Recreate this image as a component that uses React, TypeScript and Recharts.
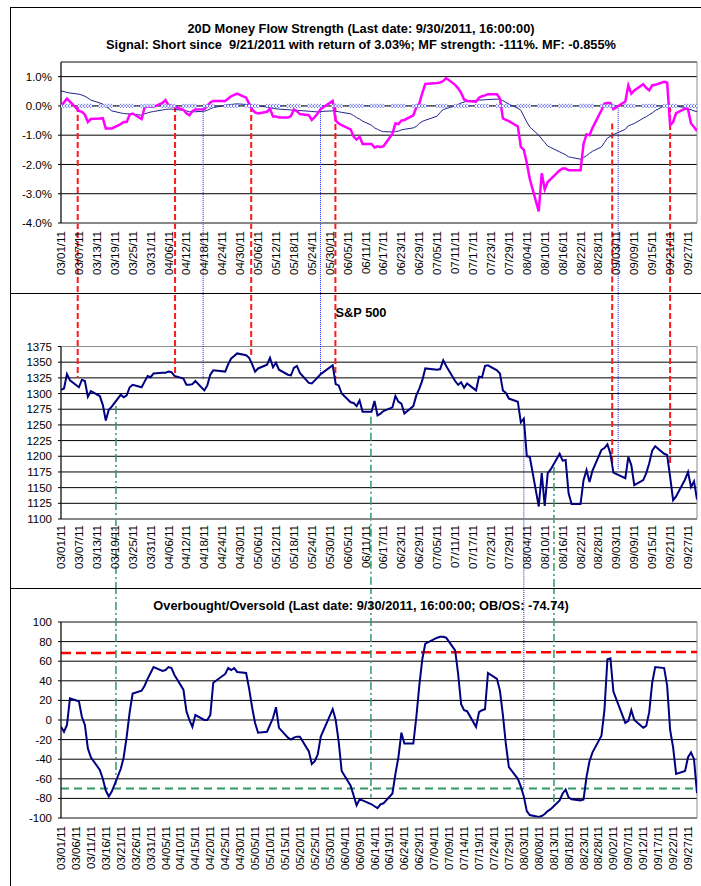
import { LineChart, Line, XAxis, YAxis, CartesianGrid, ReferenceLine, ReferenceArea } from "recharts";

const FONT = "'Liberation Sans', Arial, Helvetica, sans-serif";

// trading days, 2011
const tradingDates = [
  "03/01", "03/02", "03/03", "03/04", "03/07", "03/08", "03/09", "03/10", "03/11", "03/14", "03/15", "03/16",
  "03/17", "03/18", "03/21", "03/22", "03/23", "03/24", "03/25", "03/28", "03/29", "03/30", "03/31",
  "04/01", "04/04", "04/05", "04/06", "04/07", "04/08", "04/11", "04/12", "04/13", "04/14", "04/15", "04/18",
  "04/19", "04/20", "04/21", "04/25", "04/26", "04/27", "04/28", "04/29",
  "05/02", "05/03", "05/04", "05/05", "05/06", "05/09", "05/10", "05/11", "05/12", "05/13", "05/16", "05/17",
  "05/18", "05/19", "05/20", "05/23", "05/24", "05/25", "05/26", "05/27", "05/31",
  "06/01", "06/02", "06/03", "06/06", "06/07", "06/08", "06/09", "06/10", "06/13", "06/14", "06/15", "06/16",
  "06/17", "06/20", "06/21", "06/22", "06/23", "06/24", "06/27", "06/28", "06/29", "06/30",
  "07/01", "07/05", "07/06", "07/07", "07/08", "07/11", "07/12", "07/13", "07/14", "07/15", "07/18", "07/19",
  "07/20", "07/21", "07/22", "07/25", "07/26", "07/27", "07/28", "07/29",
  "08/01", "08/02", "08/03", "08/04", "08/05", "08/08", "08/09", "08/10", "08/11", "08/12", "08/15", "08/16",
  "08/17", "08/18", "08/19", "08/22", "08/23", "08/24", "08/25", "08/26", "08/29", "08/30", "08/31",
  "09/01", "09/02", "09/06", "09/07", "09/08", "09/09", "09/12", "09/13", "09/14", "09/15", "09/16", "09/19",
  "09/20", "09/21", "09/22", "09/23", "09/26", "09/27", "09/28", "09/29", "09/30",
];

const spx = [
  1306, 1308, 1331, 1321, 1310, 1322, 1320, 1295, 1304, 1296, 1282, 1257, 1274, 1279, 1298, 1294, 1297, 1310, 1314, 1310, 1319, 1328, 1326,
  1332, 1333, 1333, 1335, 1334, 1328, 1324, 1314, 1314, 1315, 1320, 1305, 1313, 1330, 1337, 1335, 1347, 1356, 1360, 1364,
  1361, 1357, 1347, 1335, 1340, 1346, 1357, 1342, 1349, 1338, 1330, 1329, 1341, 1344, 1333, 1317, 1316, 1321, 1326, 1331, 1345,
  1315, 1313, 1300, 1286, 1285, 1280, 1289, 1271, 1271, 1288, 1265, 1268, 1272, 1278, 1296, 1287, 1284, 1268, 1280, 1297, 1308, 1321,
  1340, 1338, 1339, 1353, 1344, 1320, 1314, 1318, 1309, 1316, 1305, 1327, 1326, 1344, 1345, 1337, 1332, 1305, 1301, 1292,
  1287, 1254, 1260, 1200, 1199, 1120, 1173, 1121, 1173, 1179, 1204, 1193, 1194, 1141, 1124, 1124, 1162, 1178, 1159, 1177, 1210, 1213, 1219,
  1204, 1174, 1165, 1199, 1186, 1154, 1162, 1173, 1189, 1209, 1216, 1204, 1202, 1167, 1130, 1136, 1163, 1175, 1151, 1160, 1131,
];

// money flow strength, %
const mfStrength = [
  0.0, 0.12, 0.25, 0.15, -0.17, -0.2, -0.3, -0.55, -0.45, -0.43, -0.42, -0.77, -0.77, -0.77, -0.62, -0.55, -0.55, -0.3, -0.26, -0.45, -0.05, -0.02, -0.03,
  -0.03, 0.1, 0.2, 0.02, 0.0, -0.03, -0.13, -0.25, -0.32, -0.18, -0.12, -0.11, 0.0, 0.12, 0.17, 0.17, 0.25, 0.33, 0.38, 0.42,
  0.28, 0.08, -0.12, -0.22, -0.26, -0.2, -0.1, -0.36, -0.36, -0.4, -0.4, -0.35, -0.12, -0.18, -0.28, -0.32, -0.48, -0.38, -0.25, -0.1, 0.17,
  -0.5, -0.6, -0.66, -0.8, -1.05, -1.15, -1.05, -1.3, -1.3, -1.42, -1.38, -1.4, -1.38, -0.95, -0.6, -0.62, -0.5, -0.48, -0.32, -0.05, 0.08, 0.44,
  0.75, 0.78, 0.8, 0.85, 0.95, 0.72, 0.6, 0.45, 0.22, 0.17, 0.14, 0.28, 0.33, 0.36, 0.4, 0.4, 0.25, -0.43, -0.48, -0.52,
  -0.7, -1.4, -1.5, -1.95, -2.5, -3.6, -2.3, -2.85, -2.6, -2.5, -2.2, -2.14, -2.14, -2.2, -2.2, -2.2, -1.3, -0.97, -1.0, -0.75, -0.15, 0.08, 0.1,
  0.1, -0.11, 0.15, 0.7, 0.42, 0.53, 0.74, 0.62, 0.53, 0.7, 0.72, 0.82, 0.8, -0.66, -0.55, -0.25, -0.09, -0.12, -0.6, -0.72, -0.855,
];

// 20 day average of money flow, %
const mfAverage = [
  0.51, 0.49, 0.46, 0.44, 0.4, 0.37, 0.33, 0.27, 0.2, 0.1, 0.06, -0.02, -0.09, -0.17, -0.24, -0.26, -0.27, -0.27, -0.28, -0.32, -0.27, -0.24, -0.21,
  -0.19, -0.14, -0.12, -0.11, -0.11, -0.12, -0.15, -0.17, -0.2, -0.2, -0.2, -0.18, -0.15, -0.1, -0.06, 0.02, 0.04, 0.05, 0.06, 0.07,
  0.05, 0.04, 0.02, 0.01, 0.0, -0.04, -0.06, -0.08, -0.1, -0.11, -0.13, -0.14, -0.15, -0.15, -0.16, -0.18, -0.19, -0.2, -0.2, -0.19, -0.17,
  -0.18, -0.2, -0.22, -0.27, -0.33, -0.4, -0.45, -0.52, -0.66, -0.75, -0.8, -0.85, -0.88, -0.89, -0.88, -0.86, -0.82, -0.8, -0.75, -0.7, -0.6, -0.53,
  -0.49, -0.35, -0.22, -0.13, -0.09, 0.0, 0.05, 0.1, 0.13, 0.16, 0.19, 0.2, 0.2, 0.21, 0.22, 0.23, 0.23, 0.18, 0.12, 0.06,
  -0.08, -0.15, -0.35, -0.55, -0.72, -1.0, -1.13, -1.25, -1.37, -1.42, -1.57, -1.62, -1.67, -1.74, -1.76, -1.82, -1.76, -1.7, -1.62, -1.55, -1.4, -1.25, -1.1,
  -1.04, -0.98, -0.8, -0.68, -0.64, -0.6, -0.42, -0.37, -0.3, -0.24, -0.16, 0.0, 0.02, 0.02, 0.0, -0.02, -0.05, -0.1, -0.13, -0.17, -0.2,
];

// overbought / oversold oscillator
const obos = [
  -7, -12, -5, 22, 19, 3, -5, -29, -38, -51, -60, -72, -78, -73, -50, -38, -17, 8, 27, 30, 35, 42, 48,
  54, 50, 51, 54, 53, 46, 31, 9, 0, -7, 5, 0, 0, 5, 38, 47, 53, 51, 53, 49,
  48, 32, 13, -3, -13, -12, -5, 2, 13, -8, -18, -20, -18, -17, -17, -32, -45, -42, -35, -17, 11,
  0, -22, -52, -67, -77, -87, -81, -82, -86, -88, -90, -86, -85, -75, -55, -38, -13, -24, -24, 3, 35, 62,
  78, 84, 85, 85, 84, 71, 47, 16, 10, 9, -7, 8, 10, 11, 48, 42, 30, 5, -25, -48,
  -60, -68, -78, -93, -97, -99, -98, -96, -93, -91, -82, -75, -71, -79, -81, -82, -81, -58, -42, -33, -16, 10, 62,
  63, 29, -3, -1, 10, 0, -8, -6, 8, 38, 54, 53, 35, -10, -28, -55, -52, -38, -33, -40, -74.74,
];

const sixDayLabels = [
  "03/01/11", "03/07/11", "03/13/11", "03/19/11", "03/25/11", "03/31/11", "04/06/11", "04/12/11", "04/18/11",
  "04/24/11", "04/30/11", "05/06/11", "05/12/11", "05/18/11", "05/24/11", "05/30/11", "06/05/11", "06/11/11",
  "06/17/11", "06/23/11", "06/29/11", "07/05/11", "07/11/11", "07/17/11", "07/23/11", "07/29/11", "08/04/11",
  "08/10/11", "08/16/11", "08/22/11", "08/28/11", "09/03/11", "09/09/11", "09/15/11", "09/21/11", "09/27/11",
];
const fiveDayLabels = [
  "03/01/11", "03/06/11", "03/11/11", "03/16/11", "03/21/11", "03/26/11", "03/31/11", "04/05/11", "04/10/11",
  "04/15/11", "04/20/11", "04/25/11", "04/30/11", "05/05/11", "05/10/11", "05/15/11", "05/20/11", "05/25/11",
  "05/30/11", "06/04/11", "06/09/11", "06/14/11", "06/19/11", "06/24/11", "06/29/11", "07/04/11", "07/09/11",
  "07/14/11", "07/19/11", "07/24/11", "07/29/11", "08/03/11", "08/08/11", "08/13/11", "08/18/11", "08/23/11",
  "08/28/11", "09/02/11", "09/07/11", "09/12/11", "09/17/11", "09/22/11", "09/27/11",
];

const mfTicks = [-4, -3, -2, -1, 0, 1];
const spxTicks = [1100, 1125, 1150, 1175, 1200, 1225, 1250, 1275, 1300, 1325, 1350, 1375];
const obosTicks = [-100, -80, -60, -40, -20, 0, 20, 40, 60, 80, 100];

// signal markers: day = days after 03/01/11, plus the levels where each line starts / stops
const shortSignals = [
  { day: 5.6, mf: 0, spx: 1326 },
  { day: 38.2, mf: 0, spx: 1325 },
  { day: 63.7, mf: 0, spx: 1361 },
  { day: 91.9, mf: 0, spx: 1322 },
  { day: 184.6, mf: -0.6, spx: 1186 },
  { day: 204, mf: 0, spx: 1189 },
];
const longSignals = [
  { day: 47.6, mf: 0, spx: 1322 },
  { day: 86.9, mf: 0, spx: 1332 },
  { day: 186.6, mf: 0, spx: 1178 },
];
const oversoldSignals = [
  { day: 18.4, spx: 1280, obos: -66 },
  { day: 103.8, spx: 1263, obos: -79 },
  { day: 165.1, spx: 1183, obos: -92 },
];
const breakSignals = [{ day: 155, spx: 1252, obos: -70 }];

const overbought = [68.4, 69.5];
const oversold = [-70, -70];

const START = Date.UTC(2011, 2, 1);
const dayOf = (s: string) => {
  const [m, d] = s.split("/").map(Number);
  return (Date.UTC(2011, m - 1, d) - START) / 86400000;
};
const LAST = dayOf("09/30");

const rows = tradingDates.map((d, i) => ({
  day: dayOf(d),
  spx: spx[i],
  mf: mfStrength[i],
  avg: mfAverage[i],
  zero: 0,
  obos: obos[i],
}));

const sixDayTicks = sixDayLabels.map(dayOf);
const fiveDayTicks = fiveDayLabels.map(dayOf);

const dateTick = (labels: string[], ticks: number[]) => (p: any) => {
  const i = ticks.indexOf(p.payload.value);
  return (
    <text
      x={p.x}
      y={p.y}
      transform={`rotate(-90, ${p.x}, ${p.y})`}
      textAnchor="end"
      dy="0.35em"
      fontSize={11.5}
      fill="#000"
    >
      {labels[i]}
    </text>
  );
};

const yTick = { fontSize: 11.5, fill: "#000" };
const RED = "#ff1a1a";
const BLUE_DOT = "#1f1fff";
const GREEN = "#339966";
const NAVY = "#000080";
const BORDER = "#8c8c8c";

const Title = ({ text, top }: { text: string; top: number }) => (
  <div
    style={{
      position: "absolute",
      left: 11,
      width: 700,
      top,
      textAlign: "center",
      fontWeight: "bold",
      fontSize: 12.8,
      lineHeight: "16px",
      whiteSpace: "pre",
      color: "#000",
    }}
  >
    {text}
  </div>
);

const Rule = ({ left, top, width, height }: { left: number; top: number; width: number; height: number }) => (
  <div style={{ position: "absolute", left, top, width, height, background: "#000" }} />
);

export default function App() {
  return (
    <div
      style={{
        position: "absolute",
        left: 0,
        top: 0,
        width: 701,
        height: 886,
        overflow: "hidden",
        background: "#fff",
        fontFamily: FONT,
      }}
    >
      <Rule left={10} top={7} width={1} height={879} />
      <Rule left={10} top={7} width={691} height={1} />
      <Rule left={10} top={293} width={691} height={1} />
      <Rule left={10} top={588} width={691} height={1} />

      {/* Money flow */}
      <div style={{ position: "absolute", left: 11, top: 8 }}>
        <LineChart width={690} height={285} data={rows} margin={{ top: 54, right: 4, bottom: 0, left: 0 }}>
          <CartesianGrid vertical={false} stroke="#000" />
          <ReferenceArea x1={0} x2={LAST} y1={-4} y2={1.5} fill="none" stroke={BORDER} ifOverflow="visible" />
          <XAxis
            type="number"
            dataKey="day"
            domain={[0, LAST]}
            ticks={sixDayTicks}
            interval={0}
            allowDataOverflow
            height={70}
            tickSize={0}
            tickMargin={8}
            tickLine={false}
            axisLine={{ stroke: BORDER }}
            tick={dateTick(sixDayLabels, sixDayTicks)}
          />
          <YAxis
            type="number"
            domain={[-4, 1.5]}
            ticks={mfTicks}
            interval={0}
            allowDataOverflow
            width={50}
            tickSize={3}
            tickMargin={6}
            tick={yTick}
            tickLine={{ stroke: "#000" }}
            axisLine={{ stroke: "#000" }}
            tickFormatter={(v: number) => `${v.toFixed(1)}%`}
          />
          {shortSignals.map((s) => (
            <ReferenceLine
              key={`s${s.day}`}
              segment={[{ x: s.day, y: s.mf }, { x: s.day, y: -7 }]}
              stroke={RED}
              strokeWidth={2}
              strokeDasharray="6 3"
              ifOverflow="visible"
            />
          ))}
          {longSignals.map((s) => (
            <ReferenceLine
              key={`l${s.day}`}
              segment={[{ x: s.day, y: s.mf }, { x: s.day, y: -7 }]}
              stroke={BLUE_DOT}
              strokeWidth={1}
              strokeDasharray="1 1"
              ifOverflow="visible"
            />
          ))}
          <Line
            dataKey="zero"
            stroke="#2233ee"
            strokeWidth={1}
            strokeDasharray="1 1"
            dot={{ r: 1.6, fill: "#fff", stroke: "#2233ee", strokeWidth: 1 }}
            isAnimationActive={false}
          />
          <Line dataKey="avg" stroke="#22228a" strokeWidth={1} dot={false} isAnimationActive={false} />
          <Line dataKey="mf" stroke="#ff00ff" strokeWidth={2.5} dot={false} isAnimationActive={false} />
        </LineChart>
      </div>
      <Title text="20D Money Flow Strength (Last date: 9/30/2011, 16:00:00)" top={20.5} />
      <Title text="Signal: Short since  9/21/2011 with return of 3.03%; MF strength: -111%. MF: -0.855%" top={36.6} />

      {/* S&P 500 */}
      <div style={{ position: "absolute", left: 11, top: 294 }}>
        <LineChart width={690} height={294} data={rows} margin={{ top: 52.5, right: 4, bottom: 0, left: 0 }}>
          <CartesianGrid vertical={false} stroke="#000" />
          <ReferenceArea x1={0} x2={LAST} y1={1100} y2={1375} fill="none" stroke={BORDER} ifOverflow="visible" />
          <XAxis
            type="number"
            dataKey="day"
            domain={[0, LAST]}
            ticks={sixDayTicks}
            interval={0}
            allowDataOverflow
            height={69}
            tickSize={0}
            tickMargin={6}
            tickLine={false}
            axisLine={{ stroke: BORDER }}
            tick={dateTick(sixDayLabels, sixDayTicks)}
          />
          <YAxis
            type="number"
            domain={[1100, 1375]}
            ticks={spxTicks}
            interval={0}
            allowDataOverflow
            width={50}
            tickSize={3}
            tickMargin={6}
            tick={yTick}
            tickLine={{ stroke: "#000" }}
            axisLine={{ stroke: "#000" }}
          />
          {shortSignals.map((s) => (
            <ReferenceLine
              key={`s${s.day}`}
              segment={[{ x: s.day, y: 1500 }, { x: s.day, y: s.spx }]}
              stroke={RED}
              strokeWidth={2}
              strokeDasharray="6 3"
              ifOverflow="visible"
            />
          ))}
          {longSignals.map((s) => (
            <ReferenceLine
              key={`l${s.day}`}
              segment={[{ x: s.day, y: 1500 }, { x: s.day, y: s.spx }]}
              stroke={BLUE_DOT}
              strokeWidth={1}
              strokeDasharray="1 1"
              ifOverflow="visible"
            />
          ))}
          {oversoldSignals.map((s) => (
            <ReferenceLine
              key={`g${s.day}`}
              segment={[{ x: s.day, y: s.spx }, { x: s.day, y: 900 }]}
              stroke={GREEN}
              strokeWidth={1.5}
              strokeDasharray="8 3 2 3"
              ifOverflow="visible"
            />
          ))}
          {breakSignals.map((s) => (
            <ReferenceLine
              key={`b${s.day}`}
              segment={[{ x: s.day, y: s.spx }, { x: s.day, y: 900 }]}
              stroke={BLUE_DOT}
              strokeWidth={1}
              strokeDasharray="1 1"
              ifOverflow="visible"
            />
          ))}
          <Line dataKey="spx" stroke={NAVY} strokeWidth={2} dot={false} isAnimationActive={false} />
        </LineChart>
      </div>
      <Title text="S&P 500" top={305} />

      {/* Overbought / oversold */}
      <div style={{ position: "absolute", left: 11, top: 589 }}>
        <LineChart width={690} height={297} data={rows} margin={{ top: 33, right: 4, bottom: 0, left: 0 }}>
          <CartesianGrid vertical={false} stroke="#000" />
          <ReferenceArea x1={0} x2={LAST} y1={-100} y2={100} fill="none" stroke={BORDER} ifOverflow="visible" />
          <XAxis
            type="number"
            dataKey="day"
            domain={[0, LAST]}
            ticks={fiveDayTicks}
            interval={0}
            allowDataOverflow
            height={68}
            tickSize={0}
            tickMargin={8}
            tickLine={false}
            axisLine={{ stroke: BORDER }}
            tick={dateTick(fiveDayLabels, fiveDayTicks)}
          />
          <YAxis
            type="number"
            domain={[-100, 100]}
            ticks={obosTicks}
            interval={0}
            allowDataOverflow
            width={50}
            tickSize={3}
            tickMargin={6}
            tick={yTick}
            tickLine={{ stroke: "#000" }}
            axisLine={{ stroke: "#000" }}
          />
          <ReferenceLine
            segment={[{ x: 0, y: overbought[0] }, { x: LAST, y: overbought[1] }]}
            stroke="#ff0000"
            strokeWidth={2.5}
            strokeDasharray="10 5"
            ifOverflow="visible"
          />
          <ReferenceLine
            segment={[{ x: 0, y: oversold[0] }, { x: LAST, y: oversold[1] }]}
            stroke={GREEN}
            strokeWidth={2}
            strokeDasharray="8 5"
            ifOverflow="visible"
          />
          {oversoldSignals.map((s) => (
            <ReferenceLine
              key={`g${s.day}`}
              segment={[{ x: s.day, y: 300 }, { x: s.day, y: s.obos }]}
              stroke={GREEN}
              strokeWidth={1.5}
              strokeDasharray="8 3 2 3"
              ifOverflow="visible"
            />
          ))}
          {breakSignals.map((s) => (
            <ReferenceLine
              key={`b${s.day}`}
              segment={[{ x: s.day, y: 300 }, { x: s.day, y: s.obos }]}
              stroke={BLUE_DOT}
              strokeWidth={1}
              strokeDasharray="1 1"
              ifOverflow="visible"
            />
          ))}
          <Line dataKey="obos" stroke={NAVY} strokeWidth={2} dot={false} isAnimationActive={false} />
        </LineChart>
      </div>
      <Title text="Overbought/Oversold (Last date: 9/30/2011, 16:00:00; OB/OS: -74.74)" top={597.5} />
    </div>
  );
}
